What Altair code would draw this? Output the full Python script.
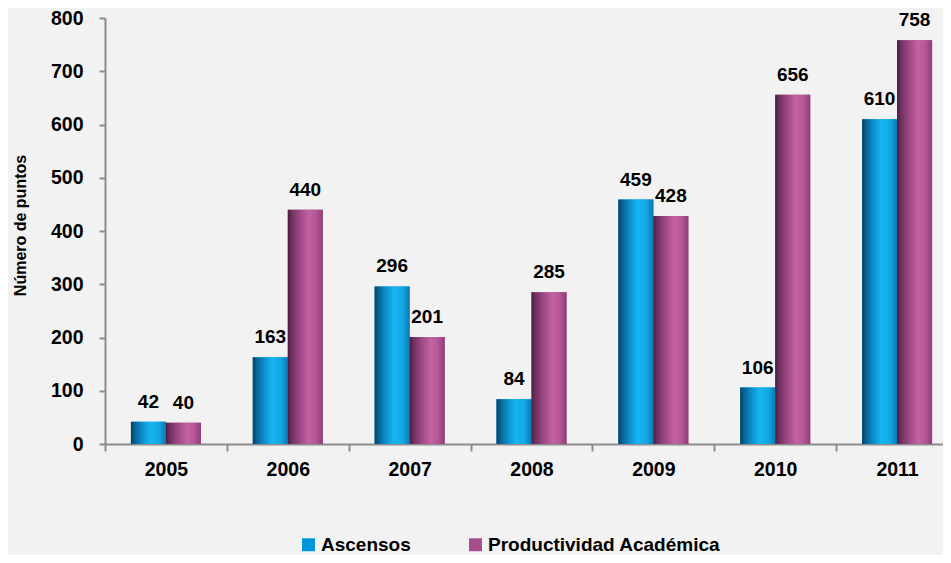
import altair as alt
import pandas as pd

years = ["2005", "2006", "2007", "2008", "2009", "2010", "2011"]
ascensos = [42, 163, 296, 84, 459, 106, 610]
productividad = [40, 440, 201, 285, 428, 656, 758]
series_names = ["Ascensos", "Productividad Académica"]
y_ticks = [0, 100, 200, 300, 400, 500, 600, 700, 800]

rows = []
for i, yr in enumerate(years):
    rows.append({"year": yr, "series": series_names[0], "value": ascensos[i]})
    rows.append({"year": yr, "series": series_names[1], "value": productividad[i]})
df = pd.DataFrame(rows)

FONT = "Liberation Sans, Arial, sans-serif"

x_enc = alt.X(
    "year:N",
    sort=years,
    scale=alt.Scale(range=[0, 853], paddingInner=0, paddingOuter=0),
    axis=alt.Axis(
        title=None,
        labelAngle=0,
        tickBand="extent",
        labelFont=FONT,
        labelFontSize=19.5,
        labelFontWeight="bold",
        labelColor="#000000",
        labelPadding=9,
        tickSize=7,
        tickColor="#8c8c8c",
        tickWidth=2,
        domainColor="#8c8c8c",
        domainWidth=2,
        grid=False,
    ),
)
xo_enc = alt.XOffset(
    "series:N",
    sort=series_names,
    scale=alt.Scale(domain=series_names, paddingOuter=0.74, paddingInner=0),
)
y_enc = alt.Y(
    "value:Q",
    scale=alt.Scale(domain=[0, 800], nice=False),
    axis=alt.Axis(
        title="Número de puntos",
        values=y_ticks,
        labelFont=FONT,
        labelFontSize=19.5,
        labelFontWeight="bold",
        labelColor="#000000",
        labelPadding=16,
        tickSize=6,
        tickColor="#8c8c8c",
        tickWidth=2,
        domainColor="#8c8c8c",
        domainWidth=2,
        grid=False,
        titleFont=FONT,
        titleFontSize=16,
        titleFontWeight="bold",
        titleColor="#000000",
        titlePadding=22,
        titleY=207,
    ),
)

base = alt.Chart(df)

solid = base.mark_bar().encode(
    x=x_enc,
    xOffset=xo_enc,
    y=y_enc,
    color=alt.Color(
        "series:N",
        sort=series_names,
        scale=alt.Scale(domain=series_names, range=["#0096dc", "#a64f8c"]),
        legend=alt.Legend(
            title=None,
            orient="none",
            legendX=194,
            legendY=517,
            direction="horizontal",
            symbolType="square",
            symbolSize=169,
            symbolStrokeWidth=0,
            symbolOpacity=1,
            labelFont=FONT,
            labelFontSize=19,
            labelFontWeight="bold",
            labelColor="#000000",
            labelOffset=3,
            labelLimit=400,
            columnPadding=55,
        ),
    ),
)

blue_grad = {
    "gradient": "linear", "x1": 0, "x2": 1, "y1": 0, "y2": 0,
    "stops": [
        {"offset": 0, "color": "#083f60"},
        {"offset": 0.1, "color": "#0a5f8e"},
        {"offset": 0.3, "color": "#0b8ac8"},
        {"offset": 0.55, "color": "#16b5f2"},
        {"offset": 0.8, "color": "#12a8e4"},
        {"offset": 1, "color": "#0a78b2"},
    ],
}
purple_grad = {
    "gradient": "linear", "x1": 0, "x2": 1, "y1": 0, "y2": 0,
    "stops": [
        {"offset": 0, "color": "#4a1c3d"},
        {"offset": 0.1, "color": "#6c2f5e"},
        {"offset": 0.3, "color": "#96447e"},
        {"offset": 0.6, "color": "#c462a4"},
        {"offset": 0.8, "color": "#b65797"},
        {"offset": 1, "color": "#8c3e76"},
    ],
}

blue_bars = base.transform_filter(alt.datum.series == series_names[0]).mark_bar(
    color=blue_grad
).encode(x=x_enc, xOffset=xo_enc, y=y_enc)

purple_bars = base.transform_filter(alt.datum.series == series_names[1]).mark_bar(
    color=purple_grad
).encode(x=x_enc, xOffset=xo_enc, y=y_enc)

labels = base.mark_text(
    font=FONT, fontSize=19, fontWeight="bold", color="#000000",
    baseline="alphabetic", dy=-14,
).encode(x=x_enc, xOffset=xo_enc, y=y_enc, text="value:Q")

chart = (
    alt.layer(solid, blue_bars, purple_bars, labels)
    .properties(
        width=838,
        height=426,
        background="#f2f2f2",
        autosize=alt.AutoSizeParams(type="none"),
        padding={"left": 97, "top": 10, "right": 0, "bottom": 111},
    )
    .configure_view(stroke=None)
)

chart.save("out.html", embed_options={"renderer": "svg", "actions": False})
